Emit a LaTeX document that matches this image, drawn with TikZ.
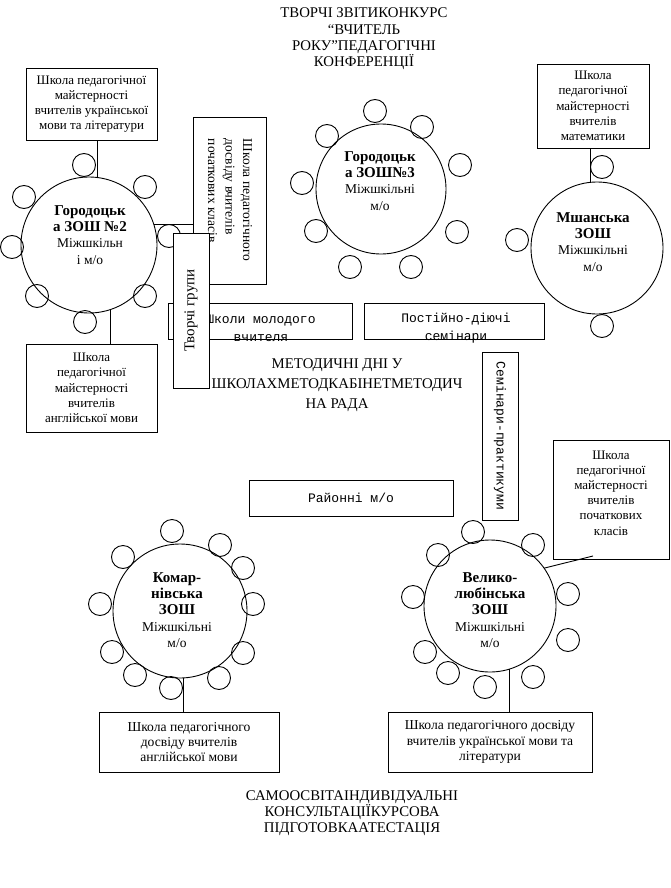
\documentclass[tikz,border=0pt]{standalone}
\usepackage{fontspec}
\setmainfont{Liberation Serif}
\setmonofont{Liberation Mono}
\begin{document}
\begin{tikzpicture}[x=1pt,y=-1pt,
  every node/.style={inner sep=0pt, outer sep=0pt},
  box/.style={draw, line width=0.9pt, fill=white, align=center},
  bigc/.style={circle, draw, line width=0.9pt},
  smc/.style={circle, draw, line width=0.9pt, minimum size=23pt},
  conn/.style={line width=0.9pt},
  ttl/.style={align=center, font=\fontsize{14.8}{16.3}\selectfont},
  btxt/.style={align=center, font=\fontsize{13}{15.2}\selectfont},
  bigtxt/.style={align=center, font=\fontsize{13.6}{15.2}\selectfont},
  ctxt/.style={align=center, font=\fontsize{13.5}{16.3}\selectfont},
  cb/.style={font=\bfseries\fontsize{15}{16.3}\selectfont},
  mono/.style={align=center, font=\ttfamily\fontsize{13}{18}\selectfont},
]
\useasboundingbox (0,0) rectangle (670,888);

% titles
\node[ttl] (t1) at (364,39) {ТВОРЧІ ЗВІТИКОНКУРС\\“ВЧИТЕЛЬ\\РОКУ”ПЕДАГОГІЧНІ\\КОНФЕРЕНЦІЇ};
\node[ttl, font=\fontsize{14.8}{20}\selectfont] (t2) at (337,385) {МЕТОДИЧНІ ДНІ У\\ШКОЛАХМЕТОДКАБІНЕТМЕТОДИЧ\\НА РАДА};
\node[ttl] (t3) at (352,813) {САМООСВІТАІНДИВІДУАЛЬНІ\\КОНСУЛЬТАЦІЇКУРСОВА\\ПІДГОТОВКААТЕСТАЦІЯ};

% big circles
\node[bigc, minimum size=136pt] (c1) at (89,245) {};
\node[bigc, minimum size=130pt] (c2) at (381,189) {};
\node[bigc, minimum size=132pt] (c4) at (597,248) {};
\node[bigc, minimum size=134pt] (c5) at (180,611) {};
\node[bigc, minimum size=132pt] (c6) at (490,606) {};

% circle texts
\node[ctxt] (c1t) at (90,235) {{\bfseries\fontsize{15}{16.3}\selectfont Городоцьк}\\{\bfseries\fontsize{15}{16.3}\selectfont а ЗОШ №2}\\Міжшкільн\\і м/о};
\node[ctxt] (c2t) at (380,181) {{\bfseries\fontsize{15}{16.3}\selectfont Городоцьк}\\{\bfseries\fontsize{15}{16.3}\selectfont а ЗОШ№3}\\Міжшкільні\\м/о};
\node[ctxt] (c4t) at (593,242) {{\bfseries\fontsize{15}{16.3}\selectfont Мшанська}\\{\bfseries\fontsize{15}{16.3}\selectfont ЗОШ}\\Міжшкільні\\м/о};
\node[ctxt] (c5t) at (177,610) {{\bfseries\fontsize{15}{16.3}\selectfont Комар-}\\{\bfseries\fontsize{15}{16.3}\selectfont нівська}\\{\bfseries\fontsize{15}{16.3}\selectfont ЗОШ}\\Міжшкільні\\м/о};
\node[ctxt] (c6t) at (490,610) {{\bfseries\fontsize{15}{16.3}\selectfont Велико-}\\{\bfseries\fontsize{15}{16.3}\selectfont любінська}\\{\bfseries\fontsize{15}{16.3}\selectfont ЗОШ}\\Міжшкільні\\м/о};

% small circles
\foreach \p [count=\i] in {(84,165),(145,187),(24,197),(12,247),(169,236),(37,296),(145,296),(85,322)}
  \node[smc] (s1\i) at \p {};
\foreach \p [count=\i] in {(375,111),(422,127),(460,165),(457,232),(411,267),(350,267),(316,231),(302,183),(327,136)}
  \node[smc] (s2\i) at \p {};
\foreach \p [count=\i] in {(602,167),(517,240),(602,326)}
  \node[smc] (s4\i) at \p {};
\foreach \p [count=\i] in {(172,531),(220,545),(243,568),(253,604),(243,653),(219,678),(171,688),(135,675),(112,652),(100,604),(123,557)}
  \node[smc] (s5\i) at \p {};
\foreach \p [count=\i] in {(473,532),(533,545),(438,555),(413,597),(425,652),(448,673),(485,687),(533,677),(568,640),(568,594)}
  \node[smc] (s6\i) at \p {};

% boxes
\node[box, btxt, minimum width=131pt, minimum height=72pt] (bA) at (91.5,104) {Школа педагогічної\\майстерності\\вчителів української\\мови та літератури};
\node[box, btxt, minimum width=131pt, minimum height=88pt] (bD) at (91.5,388) {Школа\\педагогічної\\майстерності\\вчителів\\англійської мови};
\node[box, btxt, minimum width=112pt, minimum height=84pt] (bC) at (593,106) {Школа\\педагогічної\\майстерності\\вчителів\\математики};
\node[box, minimum width=116pt, minimum height=119pt] (bF) at (611,499.5) {};
\node[btxt] (bFt) at (611,493) {Школа\\педагогічної\\майстерності\\вчителів\\початкових\\класів};
\node[box, bigtxt, minimum width=180pt, minimum height=60pt] (bE) at (189,742) {Школа педагогічного\\досвіду вчителів\\англійської мови};
\node[box, bigtxt, minimum width=204pt, minimum height=60pt] (bG) at (490,742) {Школа педагогічного досвіду\\вчителів української мови та\\літератури};
\node[box, mono, minimum width=204pt, minimum height=36pt] (bR) at (351,498) {Районні м/о};
\node[box, mono, rotate=-90, minimum width=168pt, minimum height=36pt] (bS) at (500,436) {Семінари-практикуми};
\node[box, minimum width=180pt, minimum height=36pt] (bP) at (454,321) {};
\node[mono] (bPt) at (456,328) {Постійно-діючі\\семінари};

% connectors
\coordinate (fEnd) at (593,556);
\draw[conn] (bA.south -| c1.83) -- (c1.83);
\draw[conn] (c1.-72) -- (c1.-72 |- bD.north);
\draw[conn] (bC.south -| c4.96) -- (c4.96);
\draw[conn] (c5.-87) -- (c5.-87 |- bE.north);
\draw[conn] (c6.-73) -- (c6.-73 |- bG.north);
\draw[conn] (c6.35) -- (fEnd);

% box B (rotated text) and link
\node[box, minimum width=73pt, minimum height=167pt] (bB) at (229.5,200.5) {};
\node[rotate=-90, anchor=west, align=left, font=\fontsize{13.5}{17.5}\selectfont] (bBt) at (230,139) {Школа педагогічного\\досвіду вчителів\\початкових класів};
\draw[conn] (c1.18) -- (c1.18 -| bB.west);

% Школи молодого вчителя
\node[box, minimum width=184pt, minimum height=36pt] (bM) at (260,321) {};
\node[mono] (bMt) at (261,328) {Школи молодого\\вчителя};

% Творчі групи on top
\node[box, rotate=90, minimum width=155pt, minimum height=36pt, font=\fontsize{15}{16}\selectfont] (bT) at (191,310.5) {Творчі групи};
\end{tikzpicture}
\end{document}
